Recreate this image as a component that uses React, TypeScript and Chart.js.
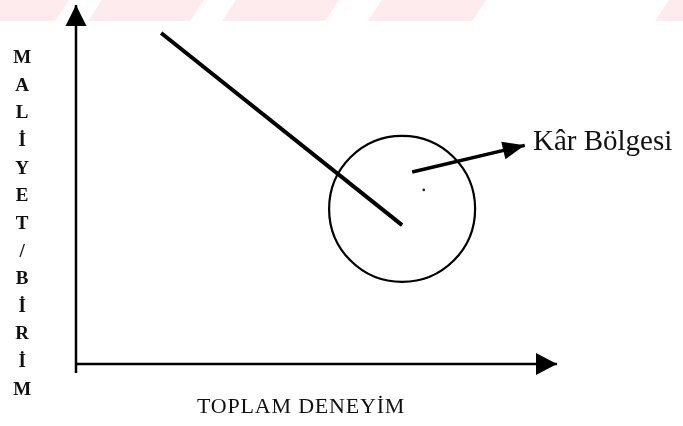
import { useEffect, useRef } from "react";
import { Chart, registerables } from "chart.js";

Chart.register(...registerables);

// Conceptual coordinate system: origin where the axes meet, axes run to 100.
const xRange = [-15.8, 126.2];
const yRange = [-17.27, 101.39];

const yAxisLine = [
  { x: 0, y: -2.5 },
  { x: 0, y: 100 },
];
const xAxisLine = [
  { x: 0, y: 0 },
  { x: 100, y: 0 },
];
const costLine = [
  { x: 17.7, y: 92.2 },
  { x: 67.8, y: 38.7 },
];
const profitArrow = [
  { x: 69.9, y: 53.5 },
  { x: 93.3, y: 60.9 },
];
const profitZone = [{ x: 67.8, y: 43.2 }];
const strayDot = [{ x: 72.3, y: 48.5 }];

const yTitleLetters = Array.from("MALİYET/BİRİM");
const xTitle = "TOPLAM DENEYİM";
const zoneLabel = "Kâr Bölgesi";
const zoneLabelAnchor = { x: 95.0, y: 61.6 };
const xTitleAnchor = { x: 46.8, y: -12.0 };
const yTitleColumn = { x: -11.2, top: 85.2, bottom: -7.2 };

const overlayPlugin = {
  id: "overlay",
  beforeDraw(chart: any) {
    const { ctx, width } = chart;
    ctx.save();
    ctx.fillStyle = "#ffffff";
    ctx.fillRect(0, 0, width, chart.height);
    // faint scan watermark band at the top
    ctx.fillStyle = "rgba(250, 205, 212, 0.4)";
    const bands = [
      [-20, 55],
      [88, 190],
      [222, 325],
      [368, 472],
      [655, 720],
    ];
    const h = 21;
    const slant = 14;
    bands.forEach(([a, b]) => {
      ctx.beginPath();
      ctx.moveTo(a + slant, 0);
      ctx.lineTo(b + slant, 0);
      ctx.lineTo(b, h);
      ctx.lineTo(a, h);
      ctx.closePath();
      ctx.fill();
    });
    ctx.restore();
  },
  afterDatasetsDraw(chart: any) {
    const { ctx } = chart;
    const xs = chart.scales.x;
    const ys = chart.scales.y;
    const px = (v: number) => xs.getPixelForValue(v);
    const py = (v: number) => ys.getPixelForValue(v);

    // arrowheads at end of flagged datasets
    chart.data.datasets.forEach((ds: any) => {
      if (!ds.arrow) return;
      const d = ds.data;
      const p1 = d[d.length - 2];
      const p2 = d[d.length - 1];
      const x1 = px(p1.x), y1 = py(p1.y), x2 = px(p2.x), y2 = py(p2.y);
      const ang = Math.atan2(y2 - y1, x2 - x1);
      const L = ds.arrow.length, W = ds.arrow.half;
      const bx = x2 - L * Math.cos(ang);
      const by = y2 - L * Math.sin(ang);
      ctx.save();
      ctx.fillStyle = "#000";
      ctx.beginPath();
      ctx.moveTo(x2, y2);
      ctx.lineTo(bx + W * Math.cos(ang + Math.PI / 2), by + W * Math.sin(ang + Math.PI / 2));
      ctx.lineTo(bx - W * Math.cos(ang + Math.PI / 2), by - W * Math.sin(ang + Math.PI / 2));
      ctx.closePath();
      ctx.fill();
      ctx.restore();
    });

    ctx.save();
    ctx.fillStyle = "#111";
    // zone label
    ctx.font = "29px 'Liberation Serif', 'Times New Roman', serif";
    ctx.textAlign = "left";
    ctx.textBaseline = "middle";
    ctx.fillText(zoneLabel, px(zoneLabelAnchor.x), py(zoneLabelAnchor.y));

    // x title
    ctx.font = "22px 'Liberation Serif', 'Times New Roman', serif";
    ctx.textAlign = "center";
    try {
      (ctx as any).letterSpacing = "0.8px";
    } catch (e) {}
    ctx.fillText(xTitle, px(xTitleAnchor.x), py(xTitleAnchor.y));
    try {
      (ctx as any).letterSpacing = "0px";
    } catch (e) {}

    // stacked y title
    ctx.font = "bold 19px 'Liberation Serif', 'Times New Roman', serif";
    const n = yTitleLetters.length;
    const top = py(yTitleColumn.top);
    const bottom = py(yTitleColumn.bottom);
    const step = (bottom - top) / (n - 1);
    yTitleLetters.forEach((ch, i) => {
      ctx.fillText(ch, px(yTitleColumn.x), top + i * step);
    });
    ctx.restore();
  },
};

export default function App() {
  const ref = useRef<HTMLCanvasElement | null>(null);

  useEffect(() => {
    document.body.style.margin = "0";
    const canvas = ref.current;
    if (!canvas) return;
    const lineDs = (data: any[], width: number, arrow?: any) => ({
      data,
      showLine: true,
      borderColor: "#000",
      borderWidth: width,
      pointRadius: 0,
      borderCapStyle: "butt",
      arrow,
    });
    const chart = new Chart(canvas, {
      type: "scatter",
      data: {
        datasets: [
          lineDs(yAxisLine, 2.5, { length: 21, half: 10.5 }) as any,
          lineDs(xAxisLine, 2.5, { length: 21, half: 11 }) as any,
          lineDs(costLine, 4) as any,
          lineDs(profitArrow, 3.5, { length: 22, half: 9 }) as any,
          {
            data: profitZone,
            showLine: false,
            pointRadius: 73,
            pointStyle: "circle",
            backgroundColor: "rgba(0,0,0,0)",
            borderColor: "#000",
            borderWidth: 2.2,
            clip: false,
          } as any,
          {
            data: strayDot,
            showLine: false,
            pointRadius: 1.3,
            backgroundColor: "#222",
            borderWidth: 0,
          } as any,
        ],
      },
      options: {
        animation: false,
        responsive: false,
        layout: { padding: 0, autoPadding: false },
        plugins: {
          legend: { display: false },
          tooltip: { enabled: false },
        },
        events: [],
        scales: {
          x: { type: "linear", min: xRange[0], max: xRange[1], display: false },
          y: { type: "linear", min: yRange[0], max: yRange[1], display: false },
        },
      },
      plugins: [overlayPlugin],
    });
    return () => chart.destroy();
  }, []);

  return (
    <div style={{ width: 683, height: 426, background: "#fff" }}>
      <canvas ref={ref} width={683} height={426} style={{ display: "block" }} />
    </div>
  );
}
